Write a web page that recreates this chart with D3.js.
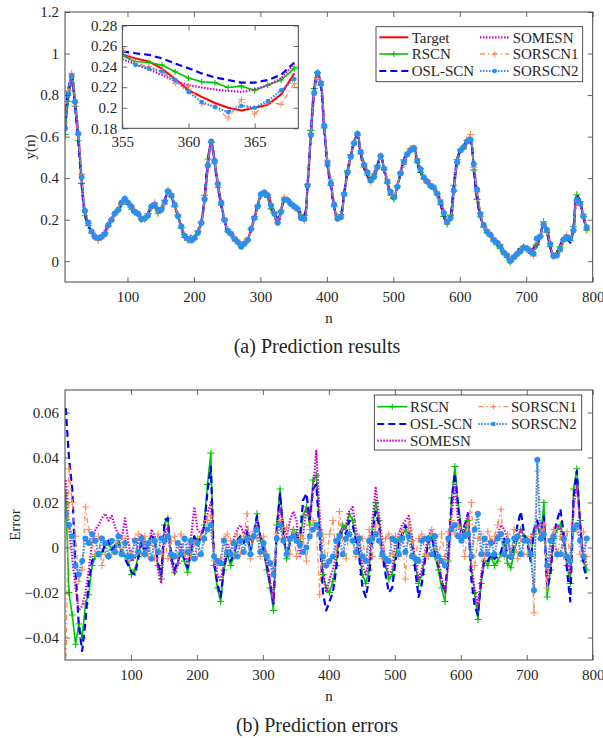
<!DOCTYPE html>
<html lang="en">
<head>
<meta charset="UTF-8">
<title>Prediction results and errors</title>
<script src="https://cdn.jsdelivr.net/npm/d3@7"></script>
<style>
    html, body { margin: 0; background: #fff; }
    svg { display: block; }
    text { font-family: "Liberation Serif", "Times New Roman", Times, serif; fill: #262626; }
</style>
</head>
<body>
<script>
// sample positions (every 5th step), errors are given from n = 1, the top panel starts at n = 6
const nErr = d3.range(1, 792, 5);
const nTop = nErr.slice(1);

// target y(n) at nTop
const target = [
    0.63, 0.80, 0.90, 0.78, 0.62, 0.40, 0.24, 0.18, 0.14, 0.12,
    0.108, 0.115, 0.135, 0.17, 0.20, 0.225, 0.25, 0.28, 0.305, 0.285,
    0.26, 0.24, 0.225, 0.205, 0.205, 0.225, 0.26, 0.275, 0.245, 0.245,
    0.28, 0.34, 0.32, 0.27, 0.22, 0.165, 0.125, 0.105, 0.105, 0.11,
    0.14, 0.18, 0.29, 0.45, 0.58, 0.49, 0.38, 0.28, 0.20, 0.15,
    0.13, 0.11, 0.09, 0.072, 0.08, 0.105, 0.15, 0.20, 0.265, 0.32,
    0.335, 0.325, 0.28, 0.225, 0.175, 0.235, 0.30, 0.29, 0.27, 0.26,
    0.25, 0.21, 0.203, 0.36, 0.60, 0.80, 0.90, 0.86, 0.66, 0.48,
    0.38, 0.27, 0.20, 0.215, 0.32, 0.42, 0.50, 0.57, 0.61, 0.53,
    0.47, 0.425, 0.385, 0.40, 0.45, 0.51, 0.45, 0.39, 0.33, 0.305,
    0.36, 0.42, 0.48, 0.51, 0.54, 0.55, 0.49, 0.44, 0.40, 0.38,
    0.365, 0.35, 0.33, 0.29, 0.24, 0.185, 0.20, 0.33, 0.47, 0.53,
    0.545, 0.57, 0.59, 0.46, 0.33, 0.23, 0.17, 0.145, 0.125, 0.105,
    0.085, 0.065, 0.045, 0.025, 0.005, 0.015, 0.03, 0.05, 0.063, 0.058,
    0.05, 0.055, 0.07, 0.115, 0.17, 0.16, 0.08, 0.02, 0.03, 0.06,
    0.10, 0.12, 0.115, 0.14, 0.285, 0.275, 0.22, 0.16
];

// prediction errors at nErr, in units of 1e-3
const errRSCN = [
    24, -20, -30, -43, -34, -40, -25, -21, -8, -4,
    -3, -2, 1, 2, -1, 0, 2, -2, -4, -6,
    -12, -10, -4, 2, -3, 1, 4, 3, -8, -14,
    10, 13, -5, -11, -7, -2, -6, -11, -3, 4,
    3, 5, 10, 28, 42, -8, -18, -24, -10, -3,
    -8, -4, 2, 4, 3, 6, -3, 5, 15, 4,
    -2, -10, -18, -28, 10, 26, 8, -5, 3, 8,
    6, 2, 14, 18, 10, 30, 32, 8, -12, -18,
    -20, -15, -8, 6, 10, 8, 15, 12, 4, -3,
    -12, -16, -10, 8, 20, 12, -4, -8, -14, -12,
    -4, 3, 5, 8, 6, 3, -8, -16, -12, -4,
    3, 6, -4, -10, -18, -24, -6, 22, 36, 20,
    8, 6, 12, -10, -20, -32, -16, -6, -8, -4,
    -8, -6, -3, 2, -7, -9, -2, 4, 8, 5,
    3, -4, 6, 10, 4, 20, -22, -10, 4, 8,
    10, 4, -8, -16, 26, 35, 12, -6, -10
];
const errOSL = [
    62, 40, 26, -10, -35, -46, -33, -15, -6, -3,
    -2, -3, 2, 3, -1, 1, 3, -3, -5, -8,
    -11, -12, -5, 3, -2, 2, 5, 4, -7, -12,
    12, 13, -4, -10, -6, -2, -5, -9, -2, 5,
    2, 4, 9, 25, 36, -6, -16, -22, -9, -2,
    -6, -3, 3, 5, 2, 7, -2, 6, 14, 5,
    -1, -8, -16, -25, 8, 24, 6, -4, 2, 7,
    5, 4, 21, 24, 12, 26, 28, 6, -20, -28,
    -24, -20, -10, 4, 8, 6, 12, 10, 3, -4,
    -18, -22, -14, 6, 16, 10, -3, -12, -20, -18,
    -6, 2, 6, 10, 7, 2, -10, -22, -16, -5,
    2, 5, -3, -8, -15, -20, -4, 20, 33, 18,
    6, 10, 15, -14, -26, -30, -14, -5, -6, -3,
    -5, -4, -2, 4, -4, -5, 2, 10, 16, 6,
    2, -6, 8, 12, 6, 14, -18, -12, 6, 12,
    17, 6, -10, -24, 22, 34, 10, -8, -14
];
const errSOMESN = [
    30, 10, -5, -18, -28, -26, -20, -10, 2, 8,
    10, 13, 15, 12, 14, 9, 6, 4, 13, 3,
    -6, -5, 3, 6, 2, -2, 8, 5, -10, -16,
    6, 9, -6, -12, -8, 2, -3, -7, 4, 18,
    8, 6, 10, 15, 20, -4, -12, -15, -6, 2,
    -2, 4, 8, 10, 6, 9, 3, 7, 11, 5,
    3, -6, -15, -24, 5, 18, 10, 4, 12, 16,
    12, -4, 6, 17, 14, 25, 43, 15, -10, -20,
    -14, -10, -4, 6, 8, 10, 16, 18, 8, 2,
    -8, -12, -6, 12, 27, 14, 3, -6, -12, -10,
    2, 6, 10, 12, 14, 5, -6, -14, -10, -2,
    5, 8, 2, -6, -14, -20, -8, 14, 28, 12,
    4, 8, 16, -8, -18, -26, -12, -3, 2, 4,
    2, 6, 10, 8, 4, -3, 2, 5, 8, 4,
    4, 2, 8, 10, 6, 12, -14, -6, 8, 10,
    8, 3, -6, -12, 18, 28, 10, -4, -8
];
const errSORSCN1 = [
    -60, 35, 20, 5, -15, -10, 18, 8, 2, -3,
    5, -8, -3, -4, -3, -2, 3, -3, 4, -5,
    -2, 4, 6, -3, 5, -4, 3, -5, 6, -3,
    4, -5, 3, 5, -4, 6, -3, 3, -4, 2,
    -4, 5, 3, 12, 14, -6, -8, -5, 4, 6,
    3, -4, 6, -3, 5, 15, -5, 7, 4, -4,
    5, -3, -6, -10, 6, 12, 4, 9, -3, 7,
    -4, 5, 4, -6, 8, 12, 10, -21, 6, -8,
    6, 12, -3, 16, 4, -5, 8, 3, -4, 5,
    4, -6, 8, -4, 10, 6, -5, 4, 6, -3,
    5, -4, 8, -14, 10, 3, -5, 4, 6, -3,
    -4, 8, 5, -6, 6, -4, 7, 12, 6, 10,
    6, -4, 10, 20, -8, 4, 6, -5, 7, 3,
    5, 10, 17, -4, 6, -3, 8, -5, 4, -3,
    -3, 5, -29, 34, 6, 10, -18, 4, 8, -4,
    5, -4, 7, -5, 10, 8, -3, 7, -4
];
const errSORSCN2 = [
    15, 10, 5, -8, -12, -6, 4, 2, 6, 3,
    -3, 4, 2, -4, 3, -2, 5, -3, 2, -4,
    -4, 3, -2, 4, -3, 2, -5, 3, -2, 4,
    3, 5, -3, -4, 2, -3, 4, -2, 3, -5,
    2, -3, 4, 8, 10, -4, -6, -7, 3, -2,
    -3, 2, -4, 3, -2, 4, -3, 5, 8, -2,
    2, -4, -7, -12, 4, 10, 3, -3, 4, 5,
    3, 1, -2, 0, 5, 8, 10, 6, -4, -8,
    -6, -4, 3, 5, -3, 4, 6, 3, -2, 4,
    -4, -6, 3, 4, 6, 3, -3, -5, -6, 4,
    3, -3, 4, -2, 5, -4, -5, -6, 3, 4,
    4, -3, 5, -4, -6, -8, 4, 8, 10, 5,
    3, 5, 6, -4, 8, 15, -3, 4, -3, 2,
    -3, 4, 6, -3, 3, -4, 4, 5, -3, 3,
    3, -3, -19, 39, 4, 6, -8, 3, 5, -3,
    -3, 4, -4, -6, 8, 10, 3, -4, 4
];

// zoomed window n = 355..368
const insetN = d3.range(355, 369);
const insetTarget  = [0.2515, 0.248, 0.245, 0.238, 0.228, 0.217, 0.2105, 0.2046, 0.200, 0.1974, 0.200, 0.203, 0.213, 0.2335];
const insetRSCN    = [0.2505, 0.245, 0.244, 0.2416, 0.235, 0.229, 0.2253, 0.2244, 0.2197, 0.221, 0.217, 0.222, 0.227, 0.238];
const insetOSL     = [0.2548, 0.253, 0.2515, 0.248, 0.243, 0.2384, 0.2334, 0.2295, 0.227, 0.2244, 0.2244, 0.227, 0.232, 0.244];
const insetSOMESN  = [0.2472, 0.2426, 0.2374, 0.2318, 0.226, 0.222, 0.2197, 0.2177, 0.2164, 0.2154, 0.2177, 0.222, 0.2285, 0.243];
const insetSORSCN1 = [0.258, 0.2433, 0.240, 0.2355, 0.2236, 0.221, 0.204, 0.2007, 0.190, 0.208, 0.194, 0.2056, 0.2033, 0.2236];
const insetSORSCN2 = [0.2538, 0.2416, 0.238, 0.2355, 0.2269, 0.2154, 0.2056, 0.2007, 0.1957, 0.202, 0.200, 0.2066, 0.217, 0.228];

const xTicks = [100, 200, 300, 400, 500, 600, 700, 800];
const yTicksTop = [0, 0.2, 0.4, 0.6, 0.8, 1, 1.2];
const yTicksErr = [-0.04, -0.02, 0, 0.02, 0.04, 0.06];
const insetXTicks = [355, 360, 365];
const insetYTicks = [0.18, 0.2, 0.22, 0.24, 0.26, 0.28];

const style = {
    "Target":  { color: "#ff0000", width: 2 },
    "RSCN":    { color: "#00c400", width: 1.6, marker: "plus" },
    "OSL-SCN": { color: "#0000ff", width: 2.2, dash: "7,4" },
    "SOMESN":  { color: "#cc00cc", width: 2.2, dash: "1.5,1.5" },
    "SORSCN1": { color: "#ff8c5c", width: 1.3, dash: "5,3,1.5,3", marker: "plus" },
    "SORSCN2": { color: "#2a8ef2", width: 2.2, dash: "1.5,1.5", marker: "dot" }
};

const errs = {
    "RSCN": errRSCN, "OSL-SCN": errOSL, "SOMESN": errSOMESN,
    "SORSCN1": errSORSCN1, "SORSCN2": errSORSCN2
};

const width = 603, height = 738;
const svg = d3.select("body").append("svg")
    .attr("width", width)
    .attr("height", height);

const axisColor = "#444";
const font = 15;

function drawSeries(g, pts, name, x, y, curve, big) {
    const s = style[name];
    const ms = big ? 3.5 : 3;
    g.append("path")
        .datum(pts)
        .attr("fill", "none")
        .attr("stroke", s.color)
        .attr("stroke-width", s.width)
        .attr("stroke-dasharray", s.dash || null)
        .attr("stroke-linejoin", "round")
        .attr("d", d3.line().curve(curve || d3.curveLinear).x(d => x(d[0])).y(d => y(d[1])));
    if (s.marker === "plus") {
        g.append("g").selectAll("path").data(pts).join("path")
            .attr("transform", d => `translate(${x(d[0])},${y(d[1])})`)
            .attr("d", `M-${ms},0H${ms}M0,-${ms}V${ms}`)
            .attr("stroke", s.color)
            .attr("stroke-width", 1.1);
    } else if (s.marker === "dot") {
        g.append("g").selectAll("circle").data(pts).join("circle")
            .attr("cx", d => x(d[0]))
            .attr("cy", d => y(d[1]))
            .attr("r", big ? 3 : 2.3)
            .attr("fill", s.color);
    }
}

function drawAxes(g, x, y, box, xt, yt, fmtY, padX, padY) {
    const [L, T, R, B] = box;
    const styleAxis = sel => {
        sel.select(".domain").remove();
        sel.selectAll("line").attr("stroke", axisColor).attr("stroke-width", 0.8);
        sel.selectAll("text").attr("font-size", font).attr("fill", "#262626")
            .attr("font-family", '"Liberation Serif", serif');
    };
    g.append("g").attr("transform", `translate(0,${B})`)
        .call(d3.axisBottom(x).tickValues(xt).tickSize(-5).tickPadding(padX)).call(styleAxis);
    g.append("g").attr("transform", `translate(0,${T})`)
        .call(d3.axisTop(x).tickValues(xt).tickSize(-5).tickFormat("")).call(styleAxis);
    g.append("g").attr("transform", `translate(${L},0)`)
        .call(d3.axisLeft(y).tickValues(yt).tickSize(-5).tickPadding(padY).tickFormat(fmtY)).call(styleAxis);
    g.append("g").attr("transform", `translate(${R},0)`)
        .call(d3.axisRight(y).tickValues(yt).tickSize(-5).tickFormat("")).call(styleAxis);
    g.append("rect")
        .attr("x", L).attr("y", T).attr("width", R - L).attr("height", B - T)
        .attr("fill", "none").attr("stroke", axisColor).attr("stroke-width", 1);
}

function legend(g, box, rows, cols, items) {
    const [L, T, R, B] = box;
    g.append("rect").attr("x", L).attr("y", T).attr("width", R - L).attr("height", B - T)
        .attr("fill", "#fff").attr("stroke", "#262626").attr("stroke-width", 0.8);
    items.forEach((name, i) => {
        const c = Math.floor(i / rows.length), r = i % rows.length;
        const s = style[name];
        const yy = rows[r], [x0, x1, xt] = cols[c];
        g.append("line").attr("x1", x0).attr("x2", x1).attr("y1", yy).attr("y2", yy)
            .attr("stroke", s.color).attr("stroke-width", s.width)
            .attr("stroke-dasharray", s.dash || null);
        const xm = (x0 + x1) / 2;
        if (s.marker === "plus") {
            g.append("path").attr("transform", `translate(${xm},${yy})`)
                .attr("d", "M-3,0H3M0,-3V3").attr("stroke", s.color).attr("stroke-width", 1.1);
        } else if (s.marker === "dot") {
            g.append("circle").attr("cx", xm).attr("cy", yy).attr("r", 2.3).attr("fill", s.color);
        }
        g.append("text").attr("x", xt).attr("y", yy).attr("dy", "0.35em")
            .attr("font-size", font).text(name);
    });
}

const fmt = d => d3.format("~g")(d);

// ---------- (a) prediction results ----------
{
    const box = [65, 12, 592.7, 282];
    const x = d3.scaleLinear().domain([6, 800]).range([box[0], box[2]]);
    const y = d3.scaleLinear().domain([-0.1, 1.2]).range([box[3], box[1]]);
    const g = svg.append("g");
    svg.append("clipPath").attr("id", "clipA").append("rect")
        .attr("x", box[0]).attr("y", box[1]).attr("width", box[2] - box[0]).attr("height", box[3] - box[1]);
    const plot = g.append("g").attr("clip-path", "url(#clipA)");

    drawSeries(plot, nTop.map((n, i) => [n, target[i]]), "Target", x, y, d3.curveCatmullRom, true);
    Object.keys(errs).forEach(name => {
        const e = errs[name];
        drawSeries(plot, nTop.map((n, i) => [n, target[i] + e[i + 1] / 1000]), name, x, y, d3.curveCatmullRom, true);
    });

    drawAxes(g, x, y, box, xTicks, yTicksTop, fmt, 9, 6);

    g.append("text").attr("x", 30).attr("y", 147).attr("font-size", font)
        .attr("text-anchor", "middle").attr("dy", "0.35em")
        .attr("transform", "rotate(-90,30,147)").text("y(n)");
    g.append("text").attr("x", 329).attr("y", 318).attr("font-size", font)
        .attr("text-anchor", "middle").attr("dy", "0.35em").text("n");
    g.append("text").attr("x", 317).attr("y", 346).attr("font-size", 20)
        .attr("text-anchor", "middle").attr("dy", "0.35em").text("(a) Prediction results");

    // inset
    const ib = [122.3, 25.5, 298.3, 128.3];
    const xi = d3.scaleLinear().domain([355, 368.3]).range([ib[0], ib[2]]);
    const yi = d3.scaleLinear().domain([0.18, 0.28]).range([ib[3], ib[1]]);
    const gi = g.append("g");
    gi.append("rect").attr("x", ib[0]).attr("y", ib[1]).attr("width", ib[2] - ib[0]).attr("height", ib[3] - ib[1])
        .attr("fill", "#fff");
    svg.append("clipPath").attr("id", "clipI").append("rect")
        .attr("x", ib[0]).attr("y", ib[1]).attr("width", ib[2] - ib[0]).attr("height", ib[3] - ib[1]);
    const pi = gi.append("g").attr("clip-path", "url(#clipI)");
    const insetSeries = [
        ["Target", insetTarget], ["RSCN", insetRSCN], ["OSL-SCN", insetOSL],
        ["SOMESN", insetSOMESN], ["SORSCN1", insetSORSCN1], ["SORSCN2", insetSORSCN2]
    ];
    insetSeries.forEach(([name, vals]) => drawSeries(pi, insetN.map((n, i) => [n, vals[i]]), name, xi, yi));
    drawAxes(gi, xi, yi, ib, insetXTicks, insetYTicks, fmt, 8, 5);

    legend(g, [376, 26.7, 582.7, 81.7], [37.3, 54, 71],
        [[379.3, 408.3, 411.7], [480, 509.3, 512.7]],
        ["Target", "RSCN", "OSL-SCN", "SOMESN", "SORSCN1", "SORSCN2"]);
}

// ---------- (b) prediction errors ----------
{
    const box = [65, 390, 592.7, 660];
    const x = d3.scaleLinear().domain([0, 800]).range([box[0], box[2]]);
    const y = d3.scaleLinear().domain([-0.05, 0.07]).range([box[3], box[1]]);
    const g = svg.append("g");
    svg.append("clipPath").attr("id", "clipB").append("rect")
        .attr("x", box[0]).attr("y", box[1]).attr("width", box[2] - box[0]).attr("height", box[3] - box[1]);
    const plot = g.append("g").attr("clip-path", "url(#clipB)");

    Object.keys(errs).forEach(name => {
        const e = errs[name];
        drawSeries(plot, nErr.map((n, i) => [n, e[i] / 1000]), name, x, y, d3.curveLinear, true);
    });

    drawAxes(g, x, y, box, xTicks, yTicksErr, fmt, 9, 6);

    g.append("text").attr("x", 15).attr("y", 525).attr("font-size", font)
        .attr("text-anchor", "middle").attr("dy", "0.35em")
        .attr("transform", "rotate(-90,15,525)").text("Error");
    g.append("text").attr("x", 329).attr("y", 696).attr("font-size", font)
        .attr("text-anchor", "middle").attr("dy", "0.35em").text("n");
    g.append("text").attr("x", 317).attr("y", 725).attr("font-size", 20)
        .attr("text-anchor", "middle").attr("dy", "0.35em").text("(b) Prediction errors");

    legend(g, [374.3, 395, 581.7, 450], [406.7, 424, 440.7],
        [[377.3, 407.3, 410], [478.3, 508.3, 511]],
        ["RSCN", "OSL-SCN", "SOMESN", "SORSCN1", "SORSCN2"]);
}
</script>
</body>
</html>
